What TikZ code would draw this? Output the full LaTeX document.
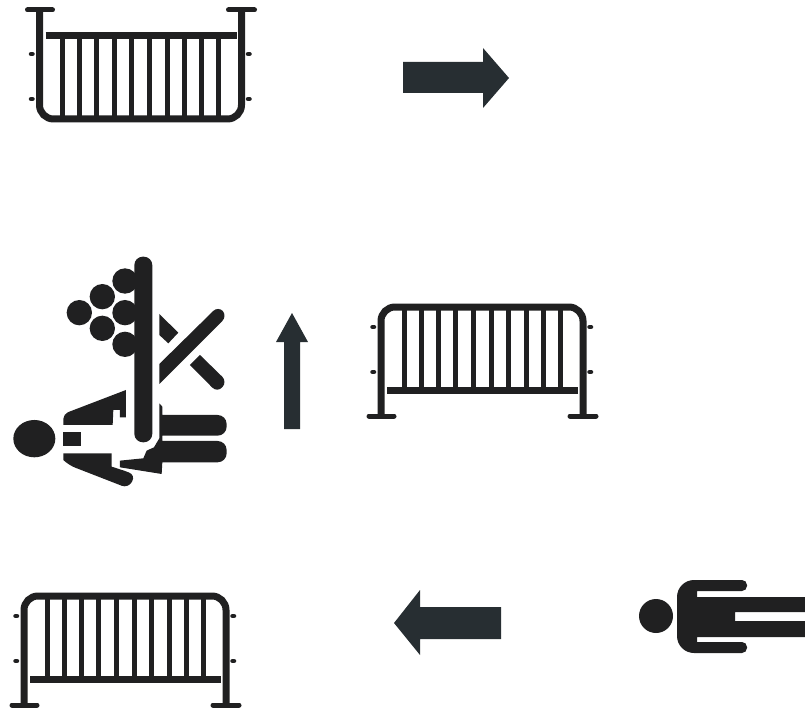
\documentclass[tikz,border=0pt]{standalone}
\usepackage{xcolor}
\usetikzlibrary{arrows.meta,positioning,calc}
\definecolor{figink}{HTML}{202021}
\definecolor{arrowink}{HTML}{272E32}

\begin{document}
\begin{tikzpicture}[
  x=1pt, y=-1pt,
  railline/.style={draw=figink, line width=7pt},
  barline/.style={draw=figink, line width=5pt},
  footline/.style={draw=figink, line width=5pt, line cap=round},
  pegline/.style={draw=figink, line width=4.5pt, line cap=round},
  figfill/.style={fill=figink},
  arrowfill/.style={fill=arrowink},
  fence/.pic={
    \draw[railline, rounded corners=14pt] (0,109) -- (0,0) -- (202,0) -- (202,109);
    \draw[railline] (6,83) -- (197,83);
    \foreach \barx in {23,40,57.3,74.7,92.3,110.3,127.7,145.3,162.3,179.3} {
      \draw[barline] (\barx,0) -- (\barx,83);
    }
    \draw[footline] (-12,109) -- (13,109);
    \draw[footline] (189,109) -- (215,109);
    \foreach \pegy in {20,65} {
      \draw[pegline] (-8.5,\pegy) -- (-7,\pegy);
      \draw[pegline] (208.5,\pegy) -- (210,\pegy);
    }
  }
]
  \useasboundingbox (0,0) rectangle (805,711);

  % barriers
  \pic[yscale=-1] at (39.5,119) {fence};
  \pic at (381,307) {fence};
  \pic at (24,596) {fence};

  % arrows
  \fill[arrowfill] (403,62) -- (483,62) -- (483,48) -- (509,78) -- (483,108) -- (483,93) -- (403,93) -- cycle;
  \fill[arrowfill] (284,429) -- (284,342) -- (276,342) -- (292,313) -- (308,342) -- (300,342) -- (300,429) -- cycle;
  \fill[arrowfill] (501,607) -- (420,607) -- (420,590) -- (394,623) -- (420,655) -- (420,639) -- (501,639) -- cycle;

  % person lying down, right
  \fill[figfill] (656,616) circle (17);
  \fill[figfill] (805,597) -- (697,597) -- (697,591) [rounded corners=5pt] -- (747,591) -- (747,580) [rounded corners=17pt] -- (677,580) -- (677,653) [rounded corners=5pt] -- (747,653) -- (747,642) [sharp corners] -- (697,642) -- (697,637) -- (805,637) -- (805,621) -- (735,621) -- (735,612) -- (805,612) -- cycle;

  % crowd behind the barrier, coordinates as read at 3x
  \begin{scope}[shift={(0,240)}, scale=0.3333]
    \fill[figfill] (478,222) -- (535,278) -- (505,310) -- (478,285) -- cycle;
    \fill[figfill] (478,372) [rounded corners=7pt] -- (655,198) -- (682,228) [sharp corners] -- (478,432) -- cycle;
    \fill[figfill] (600,345) [rounded corners=7pt] -- (682,425) -- (652,458) [sharp corners] -- (570,375) -- cycle;

    \foreach \crowdx/\crowdy in {238/218,307/170,375/123,375/218,307/265,375/313} {
      \fill[figfill] (\crowdx,\crowdy) circle (38);
    }

    \fill[figfill] (103,596) ellipse (63 and 56);
    \fill[figfill] (190,575) rectangle (243,617);
    \fill[figfill] (378,450) -- (378,532) -- (360,532) -- (360,510) -- (340,510) -- (338,555) -- (190,555) [rounded corners=5pt] -- (190,522) [sharp corners] -- cycle;
    \fill[figfill] (190,640) -- (335,640) -- (335,680) -- (372,692) [rounded corners=7pt] -- (407,705) -- (385,745) -- (205,675) [sharp corners] -- (190,660) -- cycle;
    \fill[figfill] (478,490) -- (487,500) -- (487,525) [rounded corners=9pt] -- (680,525) -- (680,587) [sharp corners] -- (487,587) -- (487,603) [rounded corners=9pt] -- (680,603) -- (680,667) [sharp corners] -- (487,667) -- (485,702) -- (360,682) -- (360,662) -- (430,655) -- (440,632) -- (462,622) -- (478,595) -- cycle;

    \fill[figfill, rounded corners=8.5pt] (403,50) rectangle (457,607);
  \end{scope}
\end{tikzpicture}
\end{document}
